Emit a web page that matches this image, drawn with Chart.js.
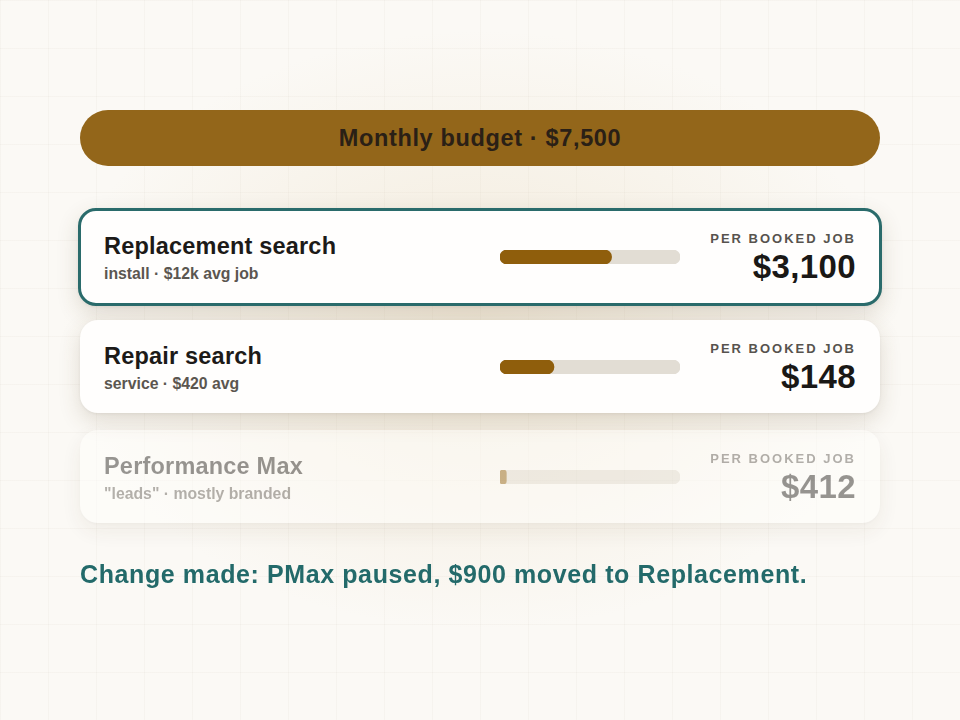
<!DOCTYPE html>
<html>
<head>
<meta charset="utf-8">
<script src="https://cdn.jsdelivr.net/npm/chart.js@4.4.1/dist/chart.umd.min.js"></script>
<style>
  html, body { margin: 0; padding: 0; }
  body {
    width: 960px; height: 720px; position: relative; overflow: hidden;
    background-color: #fbf9f5;
    background-image:
      radial-gradient(ellipse 420px 300px at 480px 330px, rgba(226, 206, 168, 0.35), rgba(226, 206, 168, 0) 100%),
      linear-gradient(rgba(120, 100, 70, 0.035) 1px, transparent 1px),
      linear-gradient(90deg, rgba(120, 100, 70, 0.035) 1px, transparent 1px);
    background-size: 100% 100%, 48px 48px, 48px 48px;
    font-family: "Liberation Sans", Arial, sans-serif;
  }
  .banner {
    position: absolute; left: 80px; top: 110px; width: 800px; height: 56px;
    border-radius: 28px; background: #93661a;
    font-weight: 700; font-size: 23.5px; letter-spacing: 0.65px;
    color: #2a2016; text-align: center; line-height: 56px;
  }
  .card {
    position: absolute; left: 80px; width: 800px; height: 93px;
    border-radius: 18px; background: #fffefd; box-sizing: border-box;
    box-shadow: 0 8px 22px rgba(90, 70, 40, 0.16), 0 1px 3px rgba(0,0,0,0.06);
  }
  .card.active { border: 3px solid #2a6b6b; left: 78px; width: 804px; height: 98px; }
  .card.faded { opacity: 0.45; }
  .title { position: absolute; left: 24px; top: 23px; font-size: 23.5px; font-weight: 700; color: #1c1a18; letter-spacing: 0.2px; }
  .sub { position: absolute; left: 24px; top: 55px; font-size: 15.8px; font-weight: 700; color: #5b5650; }
  .lbl { position: absolute; right: 24px; top: 21px; font-size: 13px; font-weight: 700; letter-spacing: 2px; color: #57534e; }
  .val { position: absolute; right: 24px; top: 38px; font-size: 33px; font-weight: 700; color: #1a1816; letter-spacing: 0.4px; }
  .bar { position: absolute; left: 420px; top: 40px; width: 180px; height: 14px; }
  .active .title { left: 23px; top: 22px; }
  .active .sub { left: 23px; top: 54px; }
  .active .lbl { right: 23px; top: 20px; }
  .active .val { right: 23px; top: 37px; }
  .active .bar { left: 419px; top: 39px; }
  .footer {
    position: absolute; left: 80px; top: 560px;
    font-weight: 700; font-size: 25px; letter-spacing: 0.6px; color: #236a6a;
  }
</style>
</head>
<body>
<div class="banner" id="banner"></div>
<div id="cards"></div>
<div class="footer" id="footer"></div>
<script>
const campaigns = ['Replacement search', 'Repair search', 'Performance Max'];
const details = ['install · $12k avg job', 'service · $420 avg', '"leads" · mostly branded'];
const budgetShare = [62, 30, 3.5];   // % of track filled
const costPerJob = [3100, 148, 412];
const states = ['active', '', 'faded'];
const cardTops = [208, 320, 430];
const budgetTotal = 7500;
const note = 'Change made: PMax paused, $900 moved to Replacement.';

document.getElementById('banner').textContent = 'Monthly budget · $' + budgetTotal.toLocaleString('en-US');
document.getElementById('footer').textContent = note;

const cardsEl = document.getElementById('cards');
campaigns.forEach((name, i) => {
    const card = document.createElement('div');
    card.className = 'card ' + states[i];
    card.style.top = cardTops[i] + 'px';
    card.innerHTML =
        '<div class="title"></div><div class="sub"></div>' +
        '<div class="bar"><canvas></canvas></div>' +
        '<div class="lbl">PER BOOKED JOB</div><div class="val"></div>';
    card.querySelector('.title').textContent = name;
    card.querySelector('.sub').textContent = details[i];
    card.querySelector('.val').textContent = '$' + costPerJob[i].toLocaleString('en-US');
    cardsEl.appendChild(card);

    new Chart(card.querySelector('canvas'), {
        type: 'bar',
        data: {
            labels: [name],
            datasets: [
                { data: [budgetShare[i]], backgroundColor: '#8f5e0c', grouped: false },
                { data: [100], backgroundColor: '#e2ddd4', grouped: false }
            ]
        },
        options: {
            indexAxis: 'y',
            responsive: true,
            maintainAspectRatio: false,
            animation: false,
            layout: { padding: 0 },
            datasets: { bar: { borderRadius: 7, borderSkipped: false, barPercentage: 1, categoryPercentage: 1 } },
            scales: {
                x: { display: false, min: 0, max: 100 },
                y: { display: false }
            },
            plugins: { legend: { display: false }, tooltip: { enabled: false } }
        }
    });
});
</script>
</body>
</html>
